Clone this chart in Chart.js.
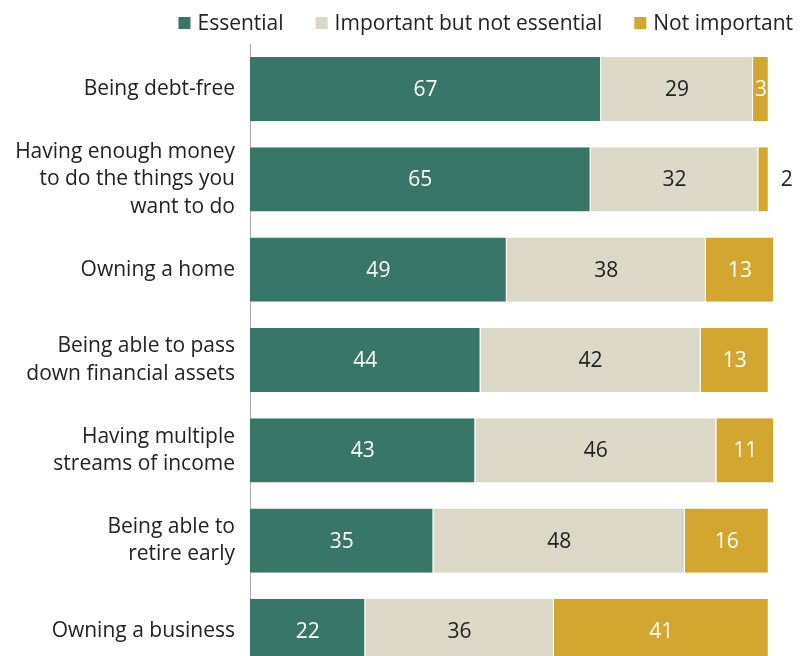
<!DOCTYPE html>
<html>
<head>
<meta charset="utf-8">
<script src="https://cdn.jsdelivr.net/npm/chart.js@4"></script>
<style>
  html, body { margin: 0; padding: 0; background: #fff; overflow: hidden; }
  #wrap { width: 802px; height: 704px; position: relative; }
</style>
</head>
<body>
<div id="wrap"><canvas id="chart"></canvas></div>
<script>
// --------------------- Data ------------------------
const categories = [
    "Being debt-free",
    ["Having enough money", "to do the things you", "want to do"],
    "Owning a home",
    ["Being able to pass", "down financial assets"],
    ["Having multiple", "streams of income"],
    ["Being able to", "retire early"],
    "Owning a business"
];
const essential = [67, 65, 49, 44, 43, 35, 22];
const importantNotEssential = [29, 32, 38, 42, 46, 48, 36];
const notImportant = [3, 2, 13, 13, 11, 16, 41];

const seriesNames = ["Essential", "Important but not essential", "Not important"];
const seriesColors = ["#387767", "#dbd8c7", "#d3a62f"];
const labelColors = ["#ffffff", "#222222", "#ffffff"];

const FONT = "'Open Sans', 'DejaVu Sans', sans-serif";

// --------------------- Value labels ------------------------
const valueLabels = {
    id: 'valueLabels',
    afterDatasetsDraw(chart) {
        const ctx = chart.ctx;
        ctx.save();
        ctx.font = "21px " + FONT;
        ctx.textBaseline = "middle";
        chart.data.datasets.forEach((ds, i) => {
            const meta = chart.getDatasetMeta(i);
            meta.data.forEach((bar, j) => {
                const v = ds.data[j];
                if (v < 3) {
                    ctx.fillStyle = "#222";
                    ctx.textAlign = "left";
                    ctx.fillText(v, bar.x + 12, bar.y + 1);
                } else {
                    ctx.fillStyle = labelColors[i];
                    ctx.textAlign = "center";
                    ctx.fillText(v, (bar.x + bar.base) / 2, bar.y + 1);
                }
            });
        });
        ctx.restore();
    }
};

// --------------------- Legend (top right) ------------------------
const topLegend = {
    id: 'topLegend',
    afterDraw(chart) {
        const ctx = chart.ctx;
        ctx.save();
        ctx.font = "21px " + FONT;
        ctx.textBaseline = "middle";
        ctx.textAlign = "left";
        const box = 12, gapBox = 7, gapItem = 32, yMid = 23;
        const widths = seriesNames.map(n => box + gapBox + ctx.measureText(n).width);
        let total = widths.reduce((a, b) => a + b, 0) + gapItem * (widths.length - 1);
        let x = 793 - total;
        seriesNames.forEach((n, i) => {
            ctx.fillStyle = seriesColors[i];
            ctx.fillRect(x, yMid - box / 2, box, box);
            ctx.fillStyle = "#222";
            ctx.fillText(n, x + box + gapBox, yMid + 1);
            x += widths[i] + gapItem;
        });
        ctx.restore();
    }
};

// --------------------- Chart ------------------------
const ctx = document.getElementById('chart').getContext('2d');
new Chart(ctx, {
    type: 'bar',
    data: {
        labels: categories,
        datasets: seriesNames.map((name, i) => ({
            label: name,
            data: [essential, importantNotEssential, notImportant][i],
            backgroundColor: seriesColors[i],
            borderColor: 'rgba(255,255,255,0.7)',
            borderWidth: { right: 1, left: 0, top: 0, bottom: 0 },
            borderSkipped: false,
            categoryPercentage: 1,
            barPercentage: 0.711
        }))
    },
    options: {
        indexAxis: 'y',
        responsive: true,
        maintainAspectRatio: false,
        animation: false,
        layout: { padding: { top: 44, bottom: 28, right: 28, left: 0 } },
        plugins: {
            tooltip: { enabled: false },
            legend: { display: false }
        },
        scales: {
            x: {
                stacked: true,
                min: 0,
                max: 100,
                display: false
            },
            y: {
                stacked: true,
                grid: { display: false },
                border: { display: true, color: '#aaaaaa' },
                ticks: {
                    color: '#222',
                    font: { size: 21, family: FONT, lineHeight: 1.3 },
                    padding: 7
                },
                afterFit(scale) { scale.width = 250; }
            }
        }
    },
    plugins: [valueLabels, topLegend]
});
</script>
</body>
</html>
